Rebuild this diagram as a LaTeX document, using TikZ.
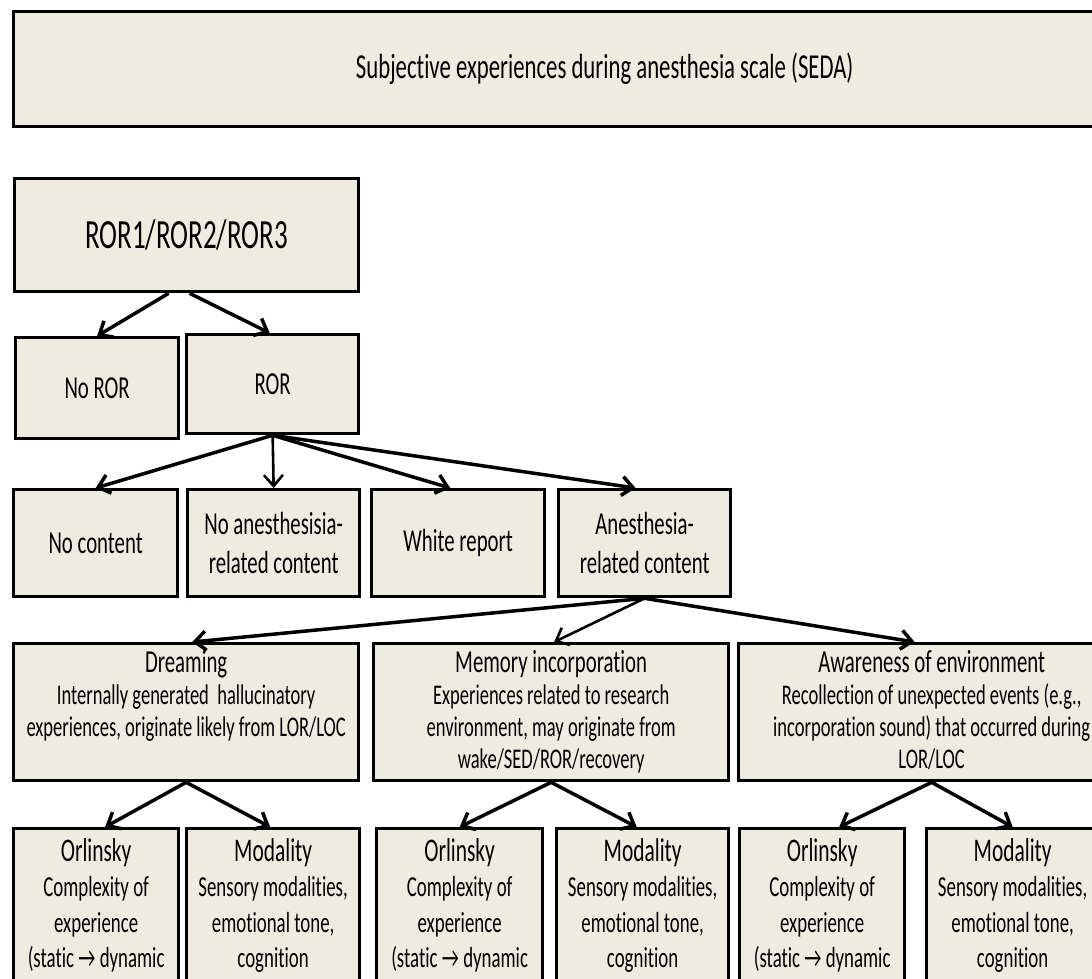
\documentclass[tikz,border=0pt]{standalone}
\usepackage{fontspec}
\setmainfont{Carlito}[FakeStretch=0.65, Ligatures=NoCommon]
\usetikzlibrary{positioning,arrows.meta}

\definecolor{boxfill}{HTML}{EEECE1}

\tikzset{
  box/.style={draw, line width=3.3pt, fill=boxfill, anchor=north west, inner sep=0pt},
  big/.style={font=\fontsize{32}{39}\selectfont, align=center},
  head/.style={inner sep=0pt, align=center, font=\fontsize{28.5}{32}\selectfont},
  leaf/.style={inner sep=0pt, align=center, font=\fontsize{29}{35.5}\selectfont},
  link/.style={->, line width=3.5pt},
  thin link/.style={->, line width=2.6pt}
}

\begin{document}
\begin{tikzpicture}[x=1pt, y=-1pt, >={Straight Barb[length=11pt,width=19pt]}]
  \useasboundingbox (0,0) rectangle (1092,978);
  \clip (0,0) rectangle (1092,978);

  % title bar
  \node[box, minimum width=1182, minimum height=115, font=\fontsize{35}{38}\selectfont] (title) at (12,10) {Subjective experiences during anesthesia scale (SEDA)};

  % level 1 and 2
  \node[box, minimum width=344, minimum height=113, font=\fontsize{41.5}{44}\selectfont] (ror123) at (13,177) {ROR1/ROR2/ROR3};
  \node[box, big, minimum width=163, minimum height=101] (noror) at (14,336) {No ROR};
  \node[box, big, minimum width=172, minimum height=99] (ror) at (185,333) {ROR};

  % level 3
  \node[box, big, minimum width=164, minimum height=107] (nocontent) at (12,488) {No content};
  \node[box, big, minimum width=172, minimum height=107] (noanes) at (186,488) {No anesthesisia-\\related content};
  \node[box, big, minimum width=173, minimum height=107] (white) at (370,488) {White report};
  \node[box, big, minimum width=172, minimum height=107] (anes) at (557,488) {Anesthesia-\\related content};

  % level 4
  \node[box, minimum width=345, minimum height=137] (dream) at (12,642) {};
  \node[box, minimum width=355, minimum height=137] (memory) at (372,642) {};
  \node[box, minimum width=386, minimum height=137] (aware) at (737,642) {};
  \node[head, below=8pt of dream.north] (dreamtxt) {{\fontsize{32}{28}\selectfont Dreaming}\\Internally generated\ \ hallucinatory\\experiences, originate likely from LOR/LOC};
  \node[head, below=8pt of memory.north] (memorytxt) {{\fontsize{32}{28}\selectfont Memory incorporation}\\Experiences related to research\\environment, may originate from\\wake/SED/ROR/recovery};
  \node[head, below=8pt of aware.north] (awaretxt) {{\fontsize{32}{28}\selectfont Awareness of environment}\\Recollection of unexpected events (e.g.,\\incorporation sound) that occurred during\\LOR/LOC};

  % level 5
  \node[box, minimum width=165, minimum height=190] (orl1) at (12,827) {};
  \node[box, minimum width=173, minimum height=190] (mod1) at (185,827) {};
  \node[box, minimum width=166, minimum height=190] (orl2) at (375,827) {};
  \node[box, minimum width=172, minimum height=190] (mod2) at (555,827) {};
  \node[box, minimum width=165, minimum height=190] (orl3) at (738,827) {};
  \node[box, minimum width=172, minimum height=190] (mod3) at (925,827) {};
  \foreach \n in {orl1,orl2,orl3}
    \node[leaf, below=11pt of \n.north] (\n txt) {{\fontsize{33}{33}\selectfont Orlinsky}\\Complexity of\\experience\\(static → dynamic};
  \foreach \n in {mod1,mod2,mod3}
    \node[leaf, below=11pt of \n.north] (\n txt) {{\fontsize{33}{33}\selectfont Modality}\\Sensory modalities,\\emotional tone,\\cognition};

  % connectors
  \draw[link] ([xshift=-18]ror123.south) -- (noror.north);
  \draw[link] ([xshift=3]ror123.south) -- ([xshift=-3]ror.north);
  \draw[link] (ror.south) -- (nocontent.north);
  \draw[thin link] (ror.south) -- (noanes.north);
  \draw[link] (ror.south) -- ([xshift=-8]white.north);
  \draw[link] (ror.south) -- ([xshift=-9]anes.north);
  \draw[link] (anes.south) -- ([xshift=6]dream.north);
  \draw[thin link] (anes.south) -- ([xshift=3]memory.north);
  \draw[link] (anes.south) -- ([xshift=-17]aware.north);
  \draw[link] (dream.south) -- ([xshift=9]orl1.north);
  \draw[link] (dream.south) -- ([xshift=-3]mod1.north);
  \draw[link] (memory.south) -- (orl2.north);
  \draw[link] (memory.south) -- ([xshift=-6]mod2.north);
  \draw[link] (aware.south) -- ([xshift=17]orl3.north);
  \draw[link] (aware.south) -- (mod3.north);
\end{tikzpicture}
\end{document}
